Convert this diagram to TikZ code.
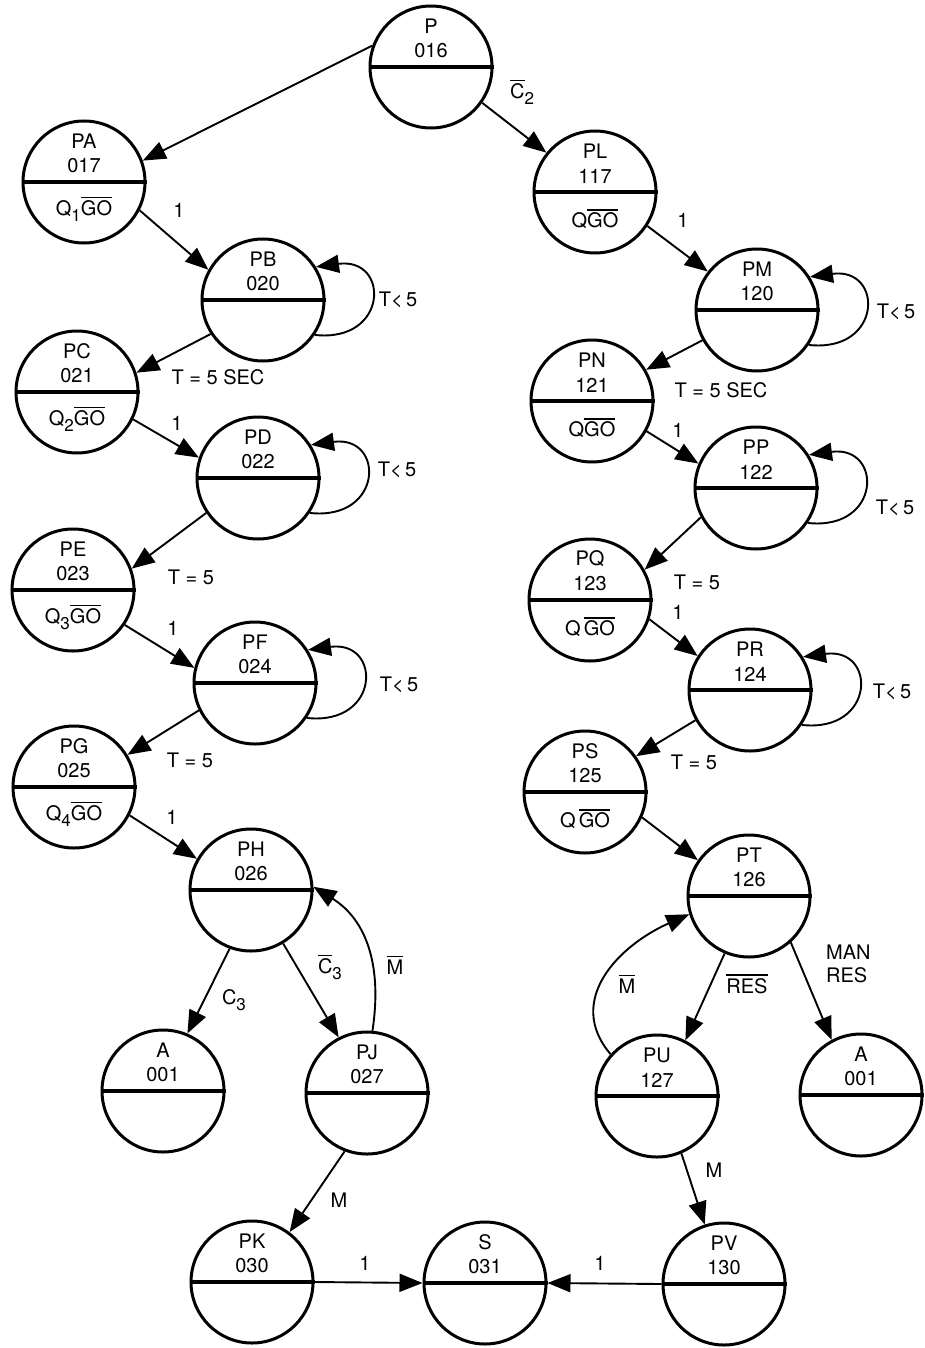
\documentclass[tikz,border=0pt]{standalone}
\usepackage{fontspec}
\setmainfont{TeX Gyre Heros}
\usetikzlibrary{arrows.meta,calc}
\newcommand\sbs[1]{\raisebox{-0.55ex}{\fontsize{17}{17}\selectfont #1}}
\newcommand\ovl[1]{\leavevmode\vbox{\hrule height 1.6pt\kern 2.2pt\hbox{#1}}}
\newcommand\stnode[6]{%
  \node[st] (#1) at (#2,#3) {};
  \draw[dv] (#1.west) -- (#1.east);
  \node[txt] (#1-a) at (#2,#3-41) {#4};
  \node[txt] (#1-b) at (#2,#3-16) {#5};
  \if\relax\detokenize{#6}\relax\else\node[txt] (#1-c) at (#2,#3+27) {#6};\fi
}
\newcommand\selfloop[1]{%
  \draw[conn] (#1.-34) .. controls +(74,8) and +(74,-10) .. (#1.32);
}
\begin{document}
\begin{tikzpicture}[x=1pt,y=-1pt,
  st/.style={circle,draw,line width=3pt,minimum size=122pt,inner sep=0pt},
  dv/.style={line width=3.4pt},
  txt/.style={inner sep=0pt,font=\fontsize{20}{23}\selectfont},
  conn/.style={line width=1.9pt,-{Triangle[length=23pt,width=18pt]}}]
\fill[white] (0,0) rectangle (924,1348);
\useasboundingbox (0,0) rectangle (924,1348);

\stnode{P}{431}{67}{P}{016}{}
\stnode{PA}{84}{182}{PA}{017}{Q\sbs{1}\ovl{GO}}
\stnode{PL}{595}{192}{PL}{117}{Q\ovl{GO}}
\stnode{PB}{263}{300}{PB}{020}{}
\stnode{PM}{757}{310}{PM}{120}{}
\stnode{PC}{77}{392}{PC}{021}{Q\sbs{2}\ovl{GO}}
\stnode{PN}{592}{401}{PN}{121}{Q\ovl{GO}}
\stnode{PD}{258}{478}{PD}{022}{}
\stnode{PP}{756}{488}{PP}{122}{}
\stnode{PE}{73}{590}{PE}{023}{Q\sbs{3}\ovl{GO}}
\stnode{PQ}{590}{600}{PQ}{123}{Q\,\ovl{GO}}
\stnode{PF}{255}{683}{PF}{024}{}
\stnode{PR}{750}{690}{PR}{124}{}
\stnode{PG}{74}{787}{PG}{025}{Q\sbs{4}\ovl{GO}}
\stnode{PS}{585}{792}{PS}{125}{Q\,\ovl{GO}}
\stnode{PH}{251}{890}{PH}{026}{}
\stnode{PT}{749}{896}{PT}{126}{}
\stnode{AL}{163}{1091}{A}{001}{}
\stnode{PJ}{367}{1093}{PJ}{027}{}
\stnode{PU}{657}{1096}{PU}{127}{}
\stnode{AR}{861}{1095}{A}{001}{}
\stnode{PK}{252}{1282}{PK}{030}{}
\stnode{S}{485}{1283}{S}{031}{}
\stnode{PV}{724}{1284}{PV}{130}{}

% left chain
\draw[conn] (P.160) -- (PA.20);
\draw[conn] (PA.-27) -- (PB.151);
\selfloop{PB}
\draw[conn] (PB.213) -- (PC.18);
\draw[conn] (PC.-26) -- (PD.161);
\selfloop{PD}
\draw[conn] (PD.214) -- (PE.20);
\draw[conn] (PE.-34) -- (PF.166);
\selfloop{PF}
\draw[conn] (PF.206) -- (PG.31);
\draw[conn] (PG.-27) -- (PH.150);
\draw[conn] (PH.250) -- (AL.67);
\draw[conn] (PH.-59) -- (PJ.117);
\draw[conn] (PJ.85) .. controls +(10,-65) and +(53,33) .. (PH.3);
\draw[conn] (PJ.249) -- (PK.53);
\draw[conn] (PK.east) -- (S.west);

% right chain
\draw[conn] (P.-35) -- (PL.141);
\draw[conn] (PL.-33) -- (PM.142);
\selfloop{PM}
\draw[conn] (PM.209) -- (PN.30);
\draw[conn] (PN.-29) -- (PP.157);
\selfloop{PP}
\draw[conn] (PP.208) -- (PQ.29);
\draw[conn] (PQ.-18) -- (PR.147);
\selfloop{PR}
\draw[conn] (PR.209) -- (PS.35);
\draw[conn] (PS.-24) -- (PT.145);
\draw[conn] (PT.247) -- (PU.63);
\draw[conn] (PT.-48) -- (AR.118);
\draw[conn] (PU.138) .. controls +(-46,-54) and +(-70,31) .. (PT.197);
\draw[conn] (PU.-67) -- (PV.108);
\draw[conn] (PV.west) -- (S.east);

% labels
\node[txt] (l1) at (522,92) {\ovl{C}\sbs{2}};
\node[txt] (l2) at (179,210) {1};
\node[txt] (l3) at (398,300) {T<\,5};
\node[txt] (l4) at (218,377) {T = 5 SEC};
\node[txt] (l5) at (177,423) {1};
\node[txt] (l6) at (397,470) {T<\,5};
\node[txt] (l7) at (191,577) {T = 5};
\node[txt] (l8) at (173,628) {1};
\node[txt] (l9) at (399,685) {T<\,5};
\node[txt] (l10) at (190,760) {T = 5};
\node[txt] (l11) at (172,817) {1};
\node[txt] (l12) at (234,1000) {C\sbs{3}};
\node[txt] (l13) at (330,967) {\ovl{C}\sbs{3}};
\node[txt] (l14) at (395,965) {\ovl{M}};
\node[txt] (l15) at (339,1200) {M};
\node[txt] (l16) at (365,1263) {1};
\node[txt] (l17) at (600,1263) {1};
\node[txt] (l18) at (683,220) {1};
\node[txt] (l19) at (896,312) {T<\,5};
\node[txt] (l20) at (721,390) {T = 5 SEC};
\node[txt] (l21) at (678,430) {1};
\node[txt] (l22) at (895,508) {T<\,5};
\node[txt] (l23) at (697,582) {T = 5};
\node[txt] (l24) at (678,612) {1};
\node[txt] (l25) at (892,692) {T<\,5};
\node[txt] (l26) at (694,762) {T = 5};
\node[txt] (l27) at (747,984) {\ovl{RES}};
\node[txt,align=left,anchor=north west] (l28) at (826,945) {MAN\\RES};
\node[txt] (l29) at (627,984) {\ovl{M}};
\node[txt] (l30) at (714,1170) {M};
\end{tikzpicture}
\end{document}
